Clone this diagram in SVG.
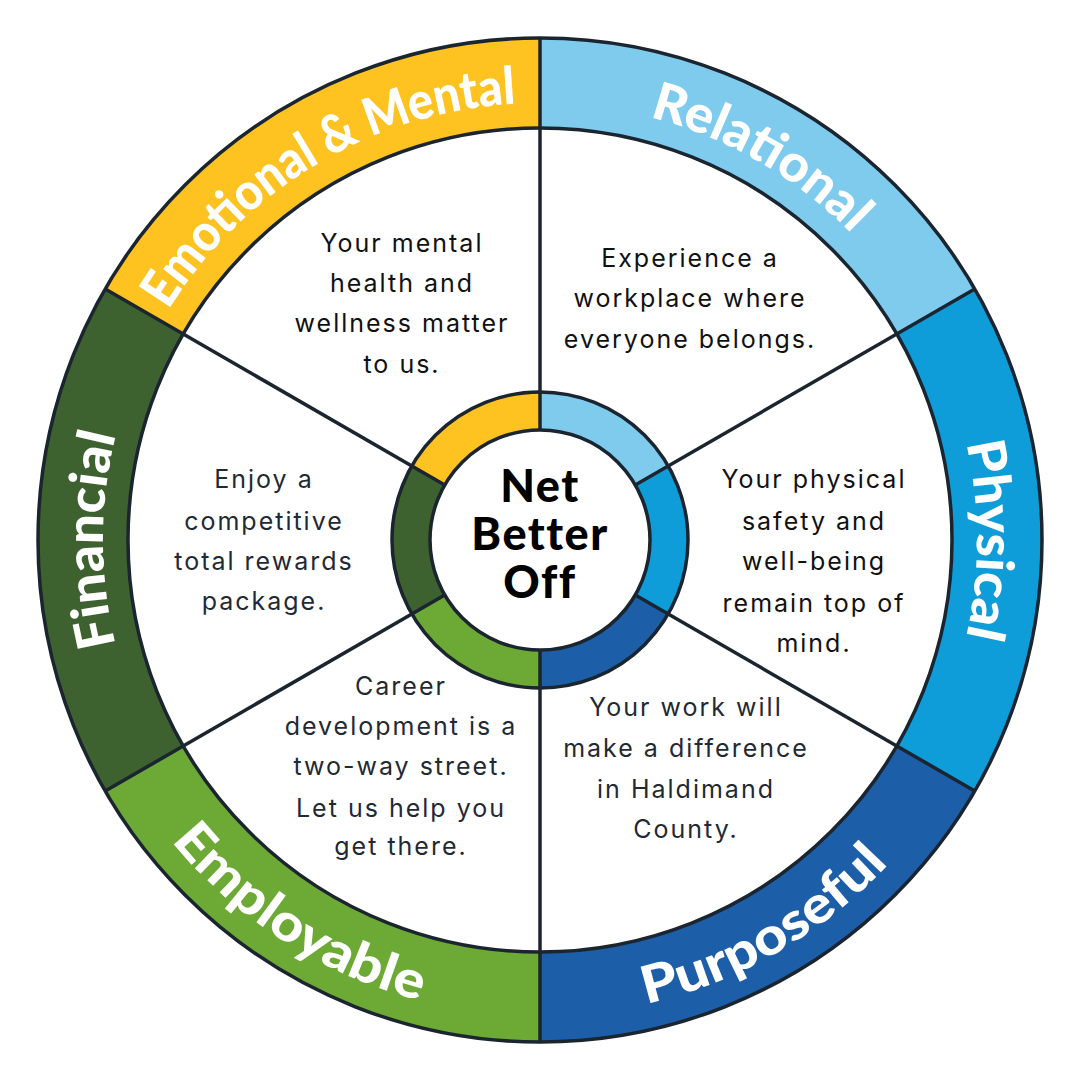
<svg xmlns="http://www.w3.org/2000/svg" width="1080" height="1080" viewBox="0 0 1080 1080">
<style>
.ol{fill:none;stroke:#1b2530;stroke-width:3.5}
.dv{stroke:#1b2530;stroke-width:3.5;stroke-linecap:butt}
.lab{font-family:Lato,"Open Sans",sans-serif;font-weight:900;font-size:52px;fill:#ffffff}
.body{font-family:Inter,"Liberation Sans",sans-serif;font-size:25px;letter-spacing:2px;text-anchor:middle}
.dk{fill:#111111}
.sl{fill:#1f2a35}
.ctr{font-family:Lato,"Open Sans",sans-serif;font-weight:900;font-size:45px;letter-spacing:1.5px;fill:#000000;text-anchor:middle}
</style>
<defs>
<path id="pRel" d="M464.12,109.64 A437,437 0 0 1 950.64,390.54"/>
<path id="pEmo" d="M127.56,395.57 A437,437 0 0 1 610.62,108.74"/>
<path id="pPhy" d="M874.76,259.10 A437,437 0 0 1 874.76,820.90"/>
<path id="pFin" d="M205.24,820.90 A437,437 0 0 1 205.24,259.10"/>
<path id="pEmp" d="M85.53,681.55 A476,476 0 0 0 600.49,1012.14"/>
<path id="pPur" d="M457.34,1008.77 A476,476 0 0 0 987.29,702.80"/>
</defs>
<rect width="1080" height="1080" fill="#ffffff"/>

<g id="relational">
<path fill="#7ecbee" d="M540,38 A502,502 0 0 1 974.74,289 L896.80,334 A412,412 0 0 0 540,128 Z"/>
<path fill="#7ecbee" d="M540,392 A148,148 0 0 1 668.17,466 L635.26,485 A110,110 0 0 0 540,430 Z"/>
<text class="lab"><textPath href="#pRel" startOffset="50%" text-anchor="middle" textLength="236" lengthAdjust="spacingAndGlyphs">Relational</textPath></text>
<text class="body dk"><tspan x="690" y="267">Experience a</tspan><tspan x="690" y="307">workplace where</tspan><tspan x="690" y="348">everyone belongs.</tspan></text>
</g>

<g id="physical">
<path fill="#0f9dda" d="M974.74,289 A502,502 0 0 1 974.74,791 L896.80,746 A412,412 0 0 0 896.80,334 Z"/>
<path fill="#0f9dda" d="M668.17,466 A148,148 0 0 1 668.17,614 L635.26,595 A110,110 0 0 0 635.26,485 Z"/>
<text class="lab"><textPath href="#pPhy" startOffset="50%" text-anchor="middle" textLength="195" lengthAdjust="spacingAndGlyphs">Physical</textPath></text>
<text class="body dk"><tspan x="814" y="488">Your physical</tspan><tspan x="814" y="530">safety and</tspan><tspan x="814" y="570">well-being</tspan><tspan x="814" y="612">remain top of</tspan><tspan x="814" y="652">mind.</tspan></text>
</g>

<g id="purposeful">
<path fill="#1d5ea8" d="M974.74,791 A502,502 0 0 1 540,1042 L540,952 A412,412 0 0 0 896.80,746 Z"/>
<path fill="#1d5ea8" d="M668.17,614 A148,148 0 0 1 540,688 L540,650 A110,110 0 0 0 635.26,595 Z"/>
<text class="lab"><textPath href="#pPur" startOffset="50%" text-anchor="middle" textLength="284" lengthAdjust="spacingAndGlyphs">Purposeful</textPath></text>
<text class="body sl"><tspan x="686" y="716">Your work will</tspan><tspan x="686" y="757">make a difference</tspan><tspan x="686" y="798">in Haldimand</tspan><tspan x="686" y="838">County.</tspan></text>
</g>

<g id="employable">
<path fill="#6da935" d="M540,1042 A502,502 0 0 1 105.26,791 L183.20,746 A412,412 0 0 0 540,952 Z"/>
<path fill="#6da935" d="M540,688 A148,148 0 0 1 411.83,614 L444.74,595 A110,110 0 0 0 540,650 Z"/>
<text class="lab"><textPath href="#pEmp" startOffset="50%" text-anchor="middle" textLength="300" lengthAdjust="spacingAndGlyphs">Employable</textPath></text>
<text class="body sl"><tspan x="401" y="695">Career</tspan><tspan x="401" y="735">development is a</tspan><tspan x="401" y="775">two-way street.</tspan><tspan x="401" y="817">Let us help you</tspan><tspan x="401" y="855">get there.</tspan></text>
</g>

<g id="financial">
<path fill="#3e6130" d="M105.26,791 A502,502 0 0 1 105.26,289 L183.20,334 A412,412 0 0 0 183.20,746 Z"/>
<path fill="#3e6130" d="M411.83,614 A148,148 0 0 1 411.83,466 L444.74,485 A110,110 0 0 0 444.74,595 Z"/>
<text class="lab"><textPath href="#pFin" startOffset="50%" text-anchor="middle" textLength="212" lengthAdjust="spacingAndGlyphs">Financial</textPath></text>
<text class="body sl"><tspan x="264" y="488">Enjoy a</tspan><tspan x="264" y="530">competitive</tspan><tspan x="264" y="570">total rewards</tspan><tspan x="264" y="610">package.</tspan></text>
</g>

<g id="emotional-mental">
<path fill="#fec321" d="M105.26,289 A502,502 0 0 1 540,38 L540,128 A412,412 0 0 0 183.20,334 Z"/>
<path fill="#fec321" d="M411.83,466 A148,148 0 0 1 540,392 L540,430 A110,110 0 0 0 444.74,485 Z"/>
<text class="lab"><textPath href="#pEmo" startOffset="50%" text-anchor="middle" textLength="420" lengthAdjust="spacingAndGlyphs">Emotional &amp; Mental</textPath></text>
<text class="body dk"><tspan x="402" y="252">Your mental</tspan><tspan x="402" y="292">health and</tspan><tspan x="402" y="332">wellness matter</tspan><tspan x="402" y="373">to us.</tspan></text>
</g>

<g id="dividers">
<line class="dv" x1="540" y1="430" x2="540" y2="38"/>
<line class="dv" x1="635.26" y1="485" x2="974.74" y2="289"/>
<line class="dv" x1="635.26" y1="595" x2="974.74" y2="791"/>
<line class="dv" x1="540" y1="650" x2="540" y2="1042"/>
<line class="dv" x1="444.74" y1="595" x2="105.26" y2="791"/>
<line class="dv" x1="444.74" y1="485" x2="105.26" y2="289"/>
</g>

<g id="outlines">
<circle class="ol" cx="540" cy="540" r="502"/>
<circle class="ol" cx="540" cy="540" r="412"/>
<circle class="ol" cx="540" cy="540" r="148"/>
</g>

<g id="center">
<circle cx="540" cy="540" r="110" fill="#ffffff" stroke="#1b2530" stroke-width="3.5"/>
<text class="ctr"><tspan x="540" y="502">Net</tspan><tspan x="540" y="550">Better</tspan><tspan x="540" y="598">Off</tspan></text>
</g>
</svg>
